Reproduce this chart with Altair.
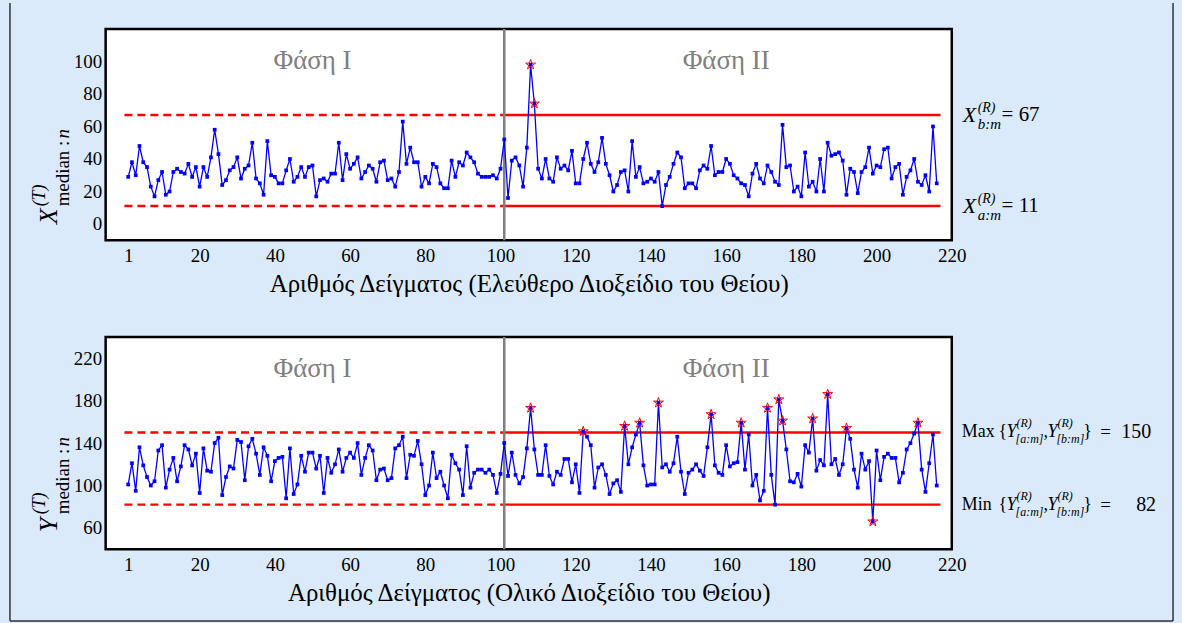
import altair as alt
import pandas as pd

# ---- data ---------------------------------------------------------------
sample = list(range(1, 217))

# median of free SO2 per sample
x_median = [
    29, 38, 30, 48, 38, 35, 23, 17, 27, 32,
    18, 20, 32, 34, 32, 31, 37, 29, 35, 23,
    35, 29, 41, 58, 43, 24, 27, 33, 35, 41,
    28, 34, 36, 50, 28, 25, 18, 51, 30, 29,
    25, 25, 33, 40, 26, 29, 35, 29, 35, 36,
    17, 27, 28, 26, 31, 31, 50, 27, 43, 34,
    37, 41, 28, 32, 36, 34, 26, 38, 39, 27,
    28, 23, 32, 63, 37, 47, 38, 38, 23, 29,
    25, 37, 35, 25, 22, 22, 39, 29, 38, 36,
    44, 41, 38, 31, 29, 29, 29, 30, 28, 34,
    52, 16, 39, 41, 36, 23, 47, 98, 74, 34,
    28, 40, 28, 26, 41, 34, 36, 33, 45, 25,
    25, 40, 50, 37, 32, 38, 53, 37, 30, 20,
    24, 32, 33, 20, 51, 29, 35, 25, 26, 28,
    26, 32, 11, 24, 29, 37, 44, 41, 22, 25,
    25, 22, 33, 36, 34, 48, 30, 32, 32, 40,
    37, 30, 28, 25, 24, 17, 31, 37, 28, 25,
    36, 32, 26, 24, 61, 35, 36, 20, 23, 17,
    44, 23, 26, 20, 40, 20, 50, 42, 43, 44,
    39, 18, 34, 32, 19, 32, 35, 47, 31, 36,
    35, 46, 47, 28, 35, 37, 18, 29, 33, 40,
    26, 24, 30, 20, 60, 25,
]

# median of total SO2 per sample
y_median = [
    101, 121, 95, 136, 119, 108, 100, 104, 133, 138,
    98, 115, 126, 104, 118, 138, 134, 119, 130, 93,
    135, 114, 113, 140, 145, 91, 108, 118, 116, 143,
    141, 105, 137, 144, 130, 110, 136, 128, 104, 123,
    126, 127, 88, 135, 92, 101, 128, 113, 131, 131,
    116, 128, 93, 126, 112, 120, 134, 113, 126, 131,
    126, 140, 110, 126, 138, 133, 105, 115, 116, 105,
    107, 135, 138, 146, 107, 129, 128, 142, 120, 91,
    100, 131, 107, 113, 100, 88, 129, 121, 115, 91,
    137, 98, 112, 115, 115, 112, 115, 110, 93, 111,
    140, 109, 131, 110, 102, 108, 135, 173, 134, 110,
    110, 138, 109, 101, 113, 110, 125, 125, 103, 120,
    93, 151, 146, 138, 98, 117, 120, 110, 92, 102,
    105, 94, 156, 120, 136, 148, 159, 119, 100, 101,
    101, 178, 117, 120, 113, 121, 146, 113, 92, 112,
    115, 120, 114, 109, 136, 167, 119, 112, 110, 138,
    118, 121, 122, 159, 115, 148, 100, 110, 86, 95,
    173, 110, 82, 181, 161, 134, 104, 103, 111, 99,
    138, 131, 163, 114, 124, 119, 186, 120, 125, 110,
    120, 154, 144, 115, 98, 130, 115, 123, 66, 133,
    105, 127, 130, 126, 126, 103, 112, 134, 140, 149,
    159, 115, 94, 121, 148, 100,
]

X_LIMITS = (11, 67)      # X(R)_{a:m}, X(R)_{b:m}
Y_LIMITS = (82, 150)     # Min / Max of Y(R)
PHASE_SPLIT = 101
LIMIT_SPAN = (0, 217)
X_TICKS = [1, 20, 40, 60, 80, 100, 120, 140, 160, 180, 200, 220]

# ---- style --------------------------------------------------------------
SERIF = "Liberation Serif"
BLUE = "#0000ff"
RED = "#ff0000"
GREY = "#808080"
W = 849
OFF_X, OFF_Y = 104, 26          # plot origin inside the canvas
STAR = ("M0,-1L0.2245,-0.309L0.951,-0.309L0.363,0.118L0.588,0.809L0,0.382"
        "L-0.588,0.809L-0.363,0.118L-0.951,-0.309L-0.2245,-0.309Z")
one = pd.DataFrame({"k": [0]})


def piece(text, px, py=None, size=17, italic=False, angle=0, datum=None,
          dy=0, color="black", align="left"):
    """A single run of text, placed in pixels relative to the panel."""
    kw = dict(text=text, font=SERIF, fontSize=size, color=color, align=align,
              baseline="middle", angle=angle, dy=dy)
    if italic:
        kw["fontStyle"] = "italic"
    enc = dict(x=alt.value(px))
    enc["y"] = alt.value(py) if datum is None else alt.datum(datum)
    return alt.Chart(one).mark_text(**kw).encode(**enc)


def frame_rule(x1, y1, x2, y2):
    return alt.Chart(one).mark_rule(color="#333333", strokeWidth=1.5).encode(
        x=alt.value(x1 - OFF_X), x2=alt.value(x2 - OFF_X),
        y=alt.value(y1 - OFF_Y), y2=alt.value(y2 - OFF_Y))


def panel(values, limits, ydomain, yticks, height, xtitle, ylabel_pieces,
          right_pieces, phase_y, canvas=False):
    lcl, ucl = limits
    df = pd.DataFrame({"sample": sample, "value": values})
    xs = alt.Scale(domain=[-5, 220], nice=False, zero=False)
    ys = alt.Scale(domain=ydomain, nice=False, zero=False)
    xaxis = alt.Axis(values=X_TICKS, title=xtitle, grid=False, ticks=False,
                     domain=False, labelFont=SERIF, labelFontSize=19,
                     labelColor="black", labelPadding=6, titleFont=SERIF,
                     titleFontSize=25, titleFontWeight="normal",
                     titleColor="black", titlePadding=6, labelFlush=False)
    yaxis = alt.Axis(values=yticks, title=None, grid=False, ticks=False,
                     domain=False, labelFont=SERIF, labelFontSize=19,
                     labelColor="black", labelPadding=4)
    X = alt.X("sample:Q", scale=xs, axis=xaxis)
    Y = alt.Y("value:Q", scale=ys, axis=yaxis)

    layers = []
    if canvas:
        # full canvas extent and the outer frame around both panels
        layers.append(alt.Chart(one).mark_rect(fillOpacity=0, strokeOpacity=0).encode(
            x=alt.value(-OFF_X), x2=alt.value(1182 - OFF_X),
            y=alt.value(-OFF_Y), y2=alt.value(623 - OFF_Y)))
        layers += [frame_rule(8, 0, 8, 620), frame_rule(1175, 0, 1175, 620),
                   frame_rule(8, 620, 1175, 620)]

    lim = pd.DataFrame({
        "sample": [LIMIT_SPAN[0], LIMIT_SPAN[0], PHASE_SPLIT, PHASE_SPLIT],
        "sample2": [PHASE_SPLIT, PHASE_SPLIT, LIMIT_SPAN[1], LIMIT_SPAN[1]],
        "value": [ucl, lcl, ucl, lcl],
        "phase": ["I", "I", "II", "II"],
    })
    base_lim = alt.Chart(lim).encode(x=X, x2="sample2:Q", y=Y)
    layers.append(base_lim.transform_filter("datum.phase == 'I'")
                  .mark_rule(color=RED, strokeWidth=2.5, strokeDash=[8, 5]))
    layers.append(base_lim.transform_filter("datum.phase == 'II'")
                  .mark_rule(color=RED, strokeWidth=2.5))

    layers.append(alt.Chart(one).mark_rule(color=GREY, strokeWidth=2.5).encode(
        x=alt.datum(PHASE_SPLIT), y=alt.value(0), y2=alt.value(height)))

    base = alt.Chart(df).encode(x=X, y=Y)
    layers.append(base.mark_line(color=BLUE, strokeWidth=1.3))
    layers.append(base.mark_point(shape="square", filled=True, size=14,
                                  color=BLUE, opacity=1))
    out = df[(df["sample"] >= PHASE_SPLIT) &
             ((df["value"] > ucl) | (df["value"] < lcl))]
    layers.append(alt.Chart(out).mark_point(shape=STAR, size=110, filled=False,
                                            stroke=RED, strokeWidth=1, opacity=1)
                  .encode(x=X, y=Y))

    phases = pd.DataFrame({"sample": [50, 160], "value": [phase_y, phase_y],
                           "t": ["Φάση I", "Φάση II"]})
    layers.append(alt.Chart(phases).mark_text(font=SERIF, fontSize=27, color=GREY)
                  .encode(x=X, y=Y, text="t:N"))

    layers += ylabel_pieces + right_pieces
    return alt.layer(*layers).properties(width=W, height=height)


# y-axis titles, composed as math pieces (rotated, reading upwards)
def ytitle(letter, start_y):
    return [
        piece(letter, -57, start_y, size=26, italic=True, angle=270),
        piece("(T)", -66, start_y - 18, size=18, italic=True, angle=270),
        piece("median : ", -43, start_y - 18, size=19, angle=270),
        piece("n", -43, start_y - 18 - 68, size=19, italic=True, angle=270),
    ]


x_right = []
for v, sub in ((X_LIMITS[1], "b:m"), (X_LIMITS[0], "a:m")):
    x_right += [
        piece("X", 860, datum=v, size=22, italic=True),
        piece("(R)", 875, datum=v, size=14, italic=True, dy=-7),
        piece(sub, 875, datum=v, size=15, italic=True, dy=9),
        piece(f"= {v}", 899, datum=v, size=21),
    ]


def braces(prefix, value, num_x):
    return [
        piece(prefix, 859, datum=value, size=18),
        piece("{", 896, datum=value, size=18),
        piece("Y", 904, datum=value, size=18, italic=True),
        piece("(R)", 914, datum=value, size=12, italic=True, dy=-9),
        piece("[a:m]", 913, datum=value, size=12, italic=True, dy=7),
        piece(",", 941, datum=value, size=18),
        piece("Y", 945, datum=value, size=18, italic=True),
        piece("(R)", 955, datum=value, size=12, italic=True, dy=-9),
        piece("[b:m]", 954, datum=value, size=12, italic=True, dy=7),
        piece("}", 981, datum=value, size=18),
        piece("=", 998, datum=value, size=19),
        piece(f"{value}", num_x, datum=value, size=20),
    ]


y_right = braces("Max", Y_LIMITS[1], 1019) + braces("Min", Y_LIMITS[0], 1034)

top = panel(x_median, X_LIMITS, [-10, 120], [0, 20, 40, 60, 80, 100], 212,
            "Αριθμός Δείγματος (Ελεύθερο Διοξείδιο του Θείου)",
            ytitle("X", 196), x_right, 100, canvas=True)
bottom = panel(y_median, Y_LIMITS, [40, 240], [60, 100, 140, 180, 220], 213,
               "Αριθμός Δείγματος (Ολικό Διοξείδιο του Θείου)",
               ytitle("Y", 196), y_right, 210)

chart = alt.vconcat(top, bottom, spacing=97, bounds="flush").properties(
    padding=0
).configure(background="#dbeafb").configure_view(
    stroke="black", strokeWidth=2.5, fill="white")

chart.save("out.html", embed_options={"renderer": "svg", "actions": False})
